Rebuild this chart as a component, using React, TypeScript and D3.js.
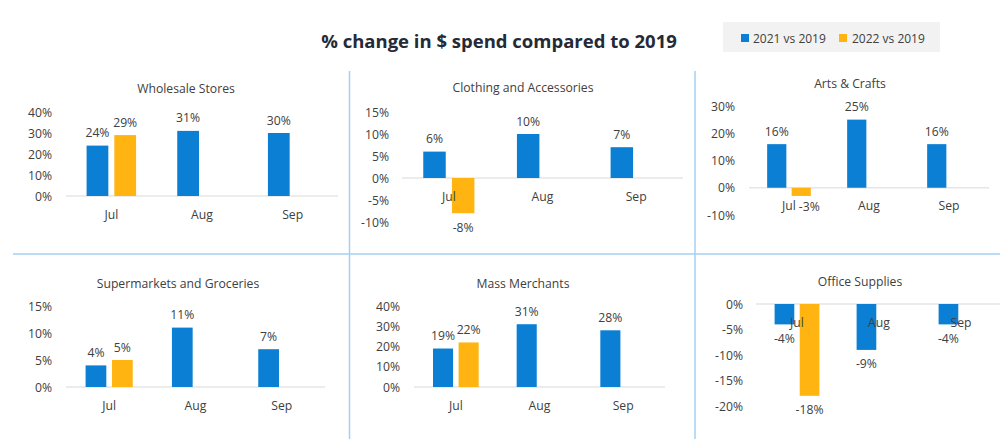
import React from "react";
import * as d3 from "d3";

// ---------- DATA ----------
const categories = ["Jul", "Aug", "Sep"];
const seriesNames = ["2021 vs 2019", "2022 vs 2019"];
const chartTitle = "% change in $ spend compared to 2019";

const panelTitles = [
  "Wholesale Stores",
  "Clothing and Accessories",
  "Arts & Crafts",
  "Supermarkets and Groceries",
  "Mass Merchants",
  "Office Supplies",
];

const wholesale2021 = [24, 31, 30];
const wholesale2022 = [29, null, null];
const clothing2021 = [6, 10, 7];
const clothing2022 = [-8, null, null];
const arts2021 = [16, 25, 16];
const arts2022 = [-3, null, null];
const supermarkets2021 = [4, 11, 7];
const supermarkets2022 = [5, null, null];
const mass2021 = [19, 31, 28];
const mass2022 = [22, null, null];
const office2021 = [-4, -9, -4];
const office2022 = [-18, null, null];

const wholesaleTicks = [0, 10, 20, 30, 40];
const clothingTicks = [-10, -5, 0, 5, 10, 15];
const artsTicks = [-10, 0, 10, 20, 30];
const supermarketsTicks = [0, 5, 10, 15];
const massTicks = [0, 10, 20, 30, 40];
const officeTicks = [-20, -15, -10, -5, 0];

const panelSeries = [
  [wholesale2021, wholesale2022],
  [clothing2021, clothing2022],
  [arts2021, arts2022],
  [supermarkets2021, supermarkets2022],
  [mass2021, mass2022],
  [office2021, office2022],
];
const panelTicks = [wholesaleTicks, clothingTicks, artsTicks, supermarketsTicks, massTicks, officeTicks];

// ---------- LAYOUT (pixels) ----------
const layout = [
  { x0: 66, x1: 338, yTop: 112, yBot: 196, titleX: 186, titleY: 88, labelX: 52, negDx: 0, negDy: 0 },
  { x0: 402, x1: 683, yTop: 112, yBot: 222, titleX: 523, titleY: 87, labelX: 389, negDx: 0, negDy: 0 },
  { x0: 749, x1: 989, yTop: 106, yBot: 215, titleX: 850, titleY: 83, labelX: 735, negDx: 8, negDy: -3 },
  { x0: 66, x1: 325, yTop: 306, yBot: 387, titleX: 178, titleY: 283, labelX: 52, negDx: 0, negDy: 0 },
  { x0: 414, x1: 665, yTop: 306, yBot: 387, titleX: 523, titleY: 283, labelX: 400, negDx: 0, negDy: 0 },
  { x0: 756, x1: 1002, yTop: 304, yBot: 406, titleX: 860, titleY: 281, labelX: 743, negDx: 0, negDy: 0 },
];

const colors = ["#0a7fd3", "#ffb412"];
const textColor = "#404040";
const FONT = "'Segoe UI', 'Open Sans', sans-serif";
const FS = 12.2;

function Panel({ idx }: { idx: number }) {
  const L = layout[idx];
  const ticks = panelTicks[idx];
  const series = panelSeries[idx];
  const y = d3
    .scaleLinear()
    .domain([d3.min(ticks) as number, d3.max(ticks) as number])
    .range([L.yBot, L.yTop]);
  const x = d3.scaleBand().domain(categories).range([L.x0, L.x1]).paddingInner(0).paddingOuter(0);
  const step = x.bandwidth();
  const inner = d3
    .scaleBand()
    .domain(seriesNames)
    .range([step * 0.227, step * 0.773])
    .paddingInner(0.216);
  const y0 = y(0);
  return (
    <g>
      <text
        x={L.titleX}
        y={L.titleY}
        textAnchor="middle"
        dominantBaseline="central"
        fontSize={FS}
        fill={textColor}
      >
        {panelTitles[idx]}
      </text>
      {ticks.map((t) => (
        <text
          key={t}
          x={L.labelX}
          y={y(t)}
          textAnchor="end"
          dominantBaseline="central"
          fontSize={FS}
          fill={textColor}
        >
          {`${t}%`}
        </text>
      ))}
      <line x1={L.x0} x2={L.x1} y1={y0} y2={y0} stroke="#e6e6e6" strokeWidth={1.5} />
      {series.map((vals, si) =>
        vals.map((v, ci) => {
          if (v === null || v === undefined) return null;
          const bx = (x(categories[ci]) as number) + (inner(seriesNames[si]) as number);
          const bw = inner.bandwidth();
          const top = Math.min(y(v), y0);
          const h = Math.abs(y(v) - y0);
          return <rect key={`${si}-${ci}`} x={bx} y={top} width={bw} height={h} fill={colors[si]} />;
        })
      )}
      {categories.map((c) => (
        <text
          key={c}
          x={(x(c) as number) + step / 2}
          y={y0 + 18}
          textAnchor="middle"
          dominantBaseline="central"
          fontSize={FS}
          fill={textColor}
        >
          {c}
        </text>
      ))}
      {series.map((vals, si) =>
        vals.map((v, ci) => {
          if (v === null || v === undefined) return null;
          const cx = (x(categories[ci]) as number) + (inner(seriesNames[si]) as number) + inner.bandwidth() / 2;
          const neg = v < 0;
          const ly = neg ? y(v) + 14 + (si === 1 ? L.negDy : 0) : y(v) - 13;
          const lx = neg && si === 1 ? cx + L.negDx : cx;
          return (
            <text
              key={`l${si}-${ci}`}
              x={lx}
              y={ly}
              textAnchor="middle"
              dominantBaseline="central"
              fontSize={FS}
              fill={textColor}
            >
              {`${v}%`}
            </text>
          );
        })
      )}
    </g>
  );
}

export default function App() {
  return (
    <svg
      width={1000}
      height={439}
      style={{ position: "absolute", left: 0, top: 0, background: "#fff" }}
      fontFamily={FONT}
    >
      <rect x={0} y={0} width={1000} height={439} fill="#ffffff" />
      <text
        x={499}
        y={40}
        textAnchor="middle"
        dominantBaseline="central"
        fontSize={18.5}
        fontWeight="bold"
        fill="#252a36"
      >
        {chartTitle}
      </text>
      <rect x={723} y={22} width={217} height={30} fill="#f2f2f2" />
      {seriesNames.map((s, i) => (
        <g key={s}>
          <rect x={741 + i * 98} y={34} width={8} height={8} fill={colors[i]} />
          <text x={753 + i * 99} y={38} dominantBaseline="central" fontSize={12} fill={textColor}>
            {s}
          </text>
        </g>
      ))}
      <line x1={349.5} x2={349.5} y1={71} y2={439} stroke="#a6d0f2" strokeWidth={1.5} />
      <line x1={695} x2={695} y1={71} y2={439} stroke="#a6d0f2" strokeWidth={1.5} />
      <line x1={13} x2={1000} y1={254} y2={254} stroke="#a6d0f2" strokeWidth={1.5} />
      {panelTitles.map((_, i) => (
        <Panel key={i} idx={i} />
      ))}
    </svg>
  );
}
